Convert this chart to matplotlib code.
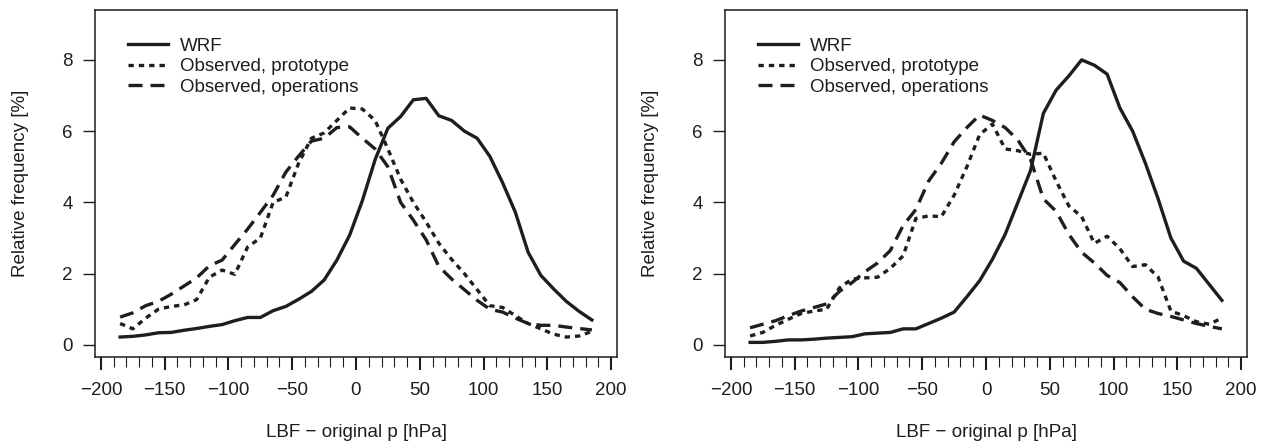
import numpy as np
import matplotlib
matplotlib.use("Agg")
import matplotlib.pyplot as plt
from matplotlib.ticker import MultipleLocator

plt.rcParams['font.family'] = ['Liberation Sans', 'DejaVu Sans']

# bin centres, LBF - original p [hPa]
dp = np.arange(-185, 190, 10)

# left panel
wrf_a = [0.22, 0.24, 0.28, 0.34, 0.35, 0.41, 0.46, 0.52, 0.57, 0.68,
         0.77, 0.77, 0.96, 1.08, 1.28, 1.50, 1.82, 2.38, 3.08, 4.05,
         5.20, 6.08, 6.41, 6.88, 6.92, 6.43, 6.30, 6.00, 5.80, 5.29,
         4.55, 3.72, 2.60, 1.95, 1.57, 1.22, 0.94, 0.70]
proto_a = [0.60, 0.45, 0.75, 1.00, 1.08, 1.12, 1.27, 1.90, 2.10, 1.98,
           2.75, 3.00, 4.00, 4.15, 5.10, 5.80, 5.95, 6.30, 6.65, 6.62,
           6.30, 5.50, 4.65, 4.00, 3.45, 2.85, 2.40, 2.00, 1.55, 1.10,
           1.05, 0.82, 0.60, 0.45, 0.30, 0.22, 0.25, 0.38]
oper_a = [0.78, 0.90, 1.10, 1.22, 1.42, 1.65, 1.88, 2.22, 2.38, 2.82,
          3.25, 3.72, 4.20, 4.85, 5.30, 5.72, 5.80, 6.10, 6.12, 5.80,
          5.50, 5.00, 4.00, 3.50, 2.95, 2.20, 1.85, 1.55, 1.25, 1.00,
          0.92, 0.75, 0.60, 0.55, 0.55, 0.50, 0.46, 0.42]

# right panel
wrf_b = [0.07, 0.07, 0.10, 0.14, 0.14, 0.16, 0.19, 0.21, 0.23, 0.31,
         0.33, 0.35, 0.45, 0.45, 0.60, 0.75, 0.92, 1.35, 1.80, 2.40,
         3.10, 4.00, 4.90, 6.50, 7.15, 7.55, 8.00, 7.85, 7.60, 6.65,
         6.00, 5.10, 4.10, 3.00, 2.35, 2.15, 1.70, 1.25]
proto_b = [0.25, 0.35, 0.55, 0.72, 0.88, 0.95, 1.00, 1.60, 1.85, 1.88,
           1.90, 2.15, 2.50, 3.55, 3.62, 3.60, 4.20, 5.00, 5.90, 6.20,
           5.50, 5.45, 5.35, 5.38, 4.60, 3.90, 3.60, 2.85, 3.05, 2.70,
           2.20, 2.25, 1.90, 0.95, 0.82, 0.65, 0.58, 0.75]
oper_b = [0.48, 0.58, 0.68, 0.82, 0.95, 1.05, 1.15, 1.50, 1.75, 2.05,
          2.30, 2.65, 3.35, 3.80, 4.60, 5.10, 5.70, 6.10, 6.45, 6.30,
          6.10, 5.75, 5.20, 4.10, 3.75, 3.10, 2.60, 2.30, 1.95, 1.75,
          1.35, 1.00, 0.88, 0.80, 0.70, 0.60, 0.52, 0.45]

labels = ["WRF", "Observed, prototype", "Observed, operations"]
ink = "#1e1e1e"
fs = 13.5

fig = plt.figure(figsize=(12.65, 4.45), dpi=100)
W, H = 1265, 445
panels = [(95, wrf_a, proto_a, oper_a), (725, wrf_b, proto_b, oper_b)]

for left, wrf, proto, oper in panels:
    ax = fig.add_axes([left / W, (H - 357) / H, 522 / W, 347 / H])
    ax.plot(dp, wrf, color=ink, lw=2.4, solid_joinstyle='round', label=labels[0])
    ax.plot(dp, proto, color=ink, lw=2.4, linestyle=(0, (1.6, 1.5)),
            dash_joinstyle='round', label=labels[1])
    ax.plot(dp, oper, color=ink, lw=2.4, linestyle=(0, (4.2, 2.4)),
            dash_joinstyle='round', label=labels[2])

    ax.set_xlim(-204.7, 204.7)
    ax.set_ylim(-0.34, 9.4)
    ax.xaxis.set_major_locator(MultipleLocator(50))
    ax.xaxis.set_minor_locator(MultipleLocator(10))
    ax.set_yticks([0, 2, 4, 6, 8])
    ax.set_xticks(np.arange(-200, 201, 50))
    ax.set_xticklabels([f"{v}".replace("-", "\u2212") for v in range(-200, 201, 50)])
    ax.tick_params(axis='x', which='major', direction='out', length=9, width=1.5,
                   colors=ink, labelsize=fs, pad=9)
    ax.tick_params(axis='x', which='minor', direction='out', length=7, width=0.8,
                   colors=ink)
    ax.tick_params(axis='y', direction='out', length=9, width=1.0, colors=ink,
                   labelsize=fs, pad=7)
    for s in ax.spines.values():
        s.set_linewidth(1.1)
        s.set_color(ink)

    ax.set_xlabel("LBF \u2212 original p [hPa]", fontsize=fs, color=ink)
    ax.xaxis.label.set_va('center')
    ax.xaxis.set_label_coords(0.5, -0.219)
    ax.set_ylabel("Relative frequency [%]", fontsize=fs, color=ink)
    ax.yaxis.label.set_va('center')
    ax.yaxis.set_label_coords(-0.143, 0.5)

    leg = ax.legend(loc='upper left', bbox_to_anchor=(0.064, 0.92), frameon=False,
                    fontsize=fs, handlelength=2.1, handletextpad=0.65,
                    labelspacing=0.18, borderpad=0, borderaxespad=0)
    for t in leg.get_texts():
        t.set_color(ink)

fig.savefig("out.png", dpi=100)
